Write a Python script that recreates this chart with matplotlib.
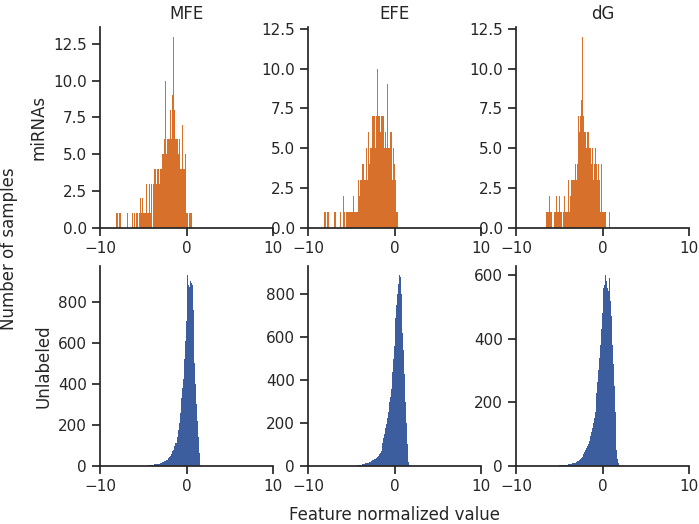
import numpy as np
import matplotlib
matplotlib.use("Agg")
import matplotlib.pyplot as plt

plt.rcParams.update({
    "font.size": 12,
    "axes.titlesize": 12,
    "axes.labelsize": 12,
    "xtick.labelsize": 11,
    "ytick.labelsize": 11,
    "axes.linewidth": 1.25,
    "xtick.major.size": 6,
    "ytick.major.size": 6,
    "xtick.major.width": 1.25,
    "ytick.major.width": 1.25,
    "axes.edgecolor": "#262626",
    "text.color": "#262626",
    "xtick.color": "#262626",
    "ytick.color": "#262626",
    "axes.labelcolor": "#262626",
})

# Features (columns) and sample groups (rows)
features = ["MFE", "EFE", "dG"]
groups = ["miRNAs", "Unlabeled"]
bin_width = 0.1

# miRNA histograms: first bin edge and counts per 0.1 bin
mirna_mfe_start = -8.2
mirna_mfe = [0, 1, 1, 0, 1, 1, 0, 0, 0, 0,
             0, 0, 0, 1, 0, 0, 0, 0, 0, 1,
             0, 1, 1, 0, 1, 1, 0, 1, 2, 1,
             1, 2, 1, 1, 1, 3, 1, 3, 1, 3,
             1, 3, 0, 3, 4, 3, 4, 3, 4, 4,
             3, 4, 5, 4, 5, 5, 6, 10, 5, 6,
             5, 6, 6, 8, 6, 9, 13, 6, 8, 6,
             6, 6, 5, 6, 4, 5, 4, 7, 4, 4,
             5, 1, 4, 1, 0, 1, 1, 1, 0]

mirna_efe_start = -8.2
mirna_efe = [0, 1, 1, 0, 1, 1, 0, 0, 0, 0,
             0, 0, 1, 1, 0, 0, 0, 0, 0, 1,
             0, 0, 1, 2, 1, 0, 1, 1, 1, 1,
             2, 1, 1, 1, 2, 1, 1, 2, 1, 1,
             3, 2, 3, 3, 4, 3, 4, 3, 3, 5,
             3, 6, 6, 4, 5, 5, 7, 7, 7, 5,
             12, 7, 10, 7, 7, 6, 7, 9, 7, 7,
             5, 6, 5, 9, 5, 4, 5, 6, 6, 3,
             5, 4, 3, 3, 1, 1]

mirna_dg_start = -6.6
mirna_dg = [0, 1, 1, 1, 2, 1, 0, 1, 0, 0,
            1, 1, 2, 1, 1, 1, 2, 1, 1, 0,
            1, 1, 2, 1, 1, 1, 3, 1, 1, 2,
            3, 3, 3, 3, 4, 3, 5, 4, 7, 6,
            7, 8, 12, 8, 7, 6, 6, 5, 6, 6,
            5, 6, 5, 4, 5, 3, 4, 5, 3, 4,
            3, 4, 3, 1, 4, 1, 5, 1, 1, 1,
            0, 0, 0, 0, 1]

# Unlabeled histograms
unlab_mfe_start = -4.5
unlab_mfe = [2, 3, 5, 4, 5, 6, 5, 7, 6, 8,
             8, 10, 9, 11, 12, 14, 13, 17, 20, 22,
             24, 27, 30, 33, 38, 42, 48, 58, 70, 78,
             82, 95, 110, 112, 140, 176, 210, 260, 300, 330,
             380, 421, 520, 610, 707, 800, 930, 880, 870, 900,
             890, 880, 760, 630, 500, 400, 300, 220, 140, 65,
             25, 5]

unlab_efe_start = -4.3
unlab_efe = [3, 4, 4, 5, 6, 7, 7, 8, 10, 11,
             12, 13, 14, 16, 18, 20, 22, 25, 28, 32,
             34, 36, 38, 42, 48, 55, 60, 70, 85, 105,
             130, 150, 175, 195, 225, 250, 270, 300, 320, 360,
             440, 500, 560, 640, 690, 750, 800, 850, 890, 880,
             800, 730, 620, 540, 430, 300, 200, 100, 50, 20,
             5]

unlab_dg_start = -5.0
unlab_dg = [2, 2, 3, 2, 3, 3, 4, 3, 4, 4,
            5, 5, 6, 6, 7, 8, 8, 9, 10, 11,
            12, 14, 16, 18, 21, 24, 28, 32, 38, 45,
            50, 55, 62, 70, 78, 85, 95, 105, 120, 135,
            150, 170, 195, 230, 265, 300, 340, 380, 430, 480,
            520, 560, 570, 600, 580, 560, 550, 600, 590, 520,
            470, 380, 320, 250, 170, 100, 50, 20, 8, 3]

panels = [
    [(mirna_mfe_start, mirna_mfe), (mirna_efe_start, mirna_efe), (mirna_dg_start, mirna_dg)],
    [(unlab_mfe_start, unlab_mfe), (unlab_efe_start, unlab_efe), (unlab_dg_start, unlab_dg)],
]
colors = ["#d6702a", "#3d5e9e"]

fig, axes = plt.subplots(2, 3, figsize=(6.99, 5.24), dpi=100)
fig.subplots_adjust(left=0.143, right=0.986, bottom=0.111, top=0.948,
                    wspace=0.2, hspace=0.19)

for r in range(2):
    for c in range(3):
        ax = axes[r, c]
        start, counts = panels[r][c]
        lefts = start + bin_width * np.arange(len(counts))
        ax.bar(lefts, counts, width=bin_width, align="edge",
               color=colors[r], linewidth=0)
        ax.set_xlim(-10, 10)
        ax.set_xticks([-10, 0, 10])
        ax.spines["top"].set_visible(False)
        ax.spines["right"].set_visible(False)
        if r == 0:
            ax.set_title(features[c])
        if c == 0:
            ax.set_ylabel(groups[r])

fig.text(0.5644, 0.017, "Feature normalized value", ha="center", va="center")
fig.text(0.013, 0.525, "Number of samples", ha="center", va="center",
         rotation=90)

plt.savefig("out.png", dpi=100)
